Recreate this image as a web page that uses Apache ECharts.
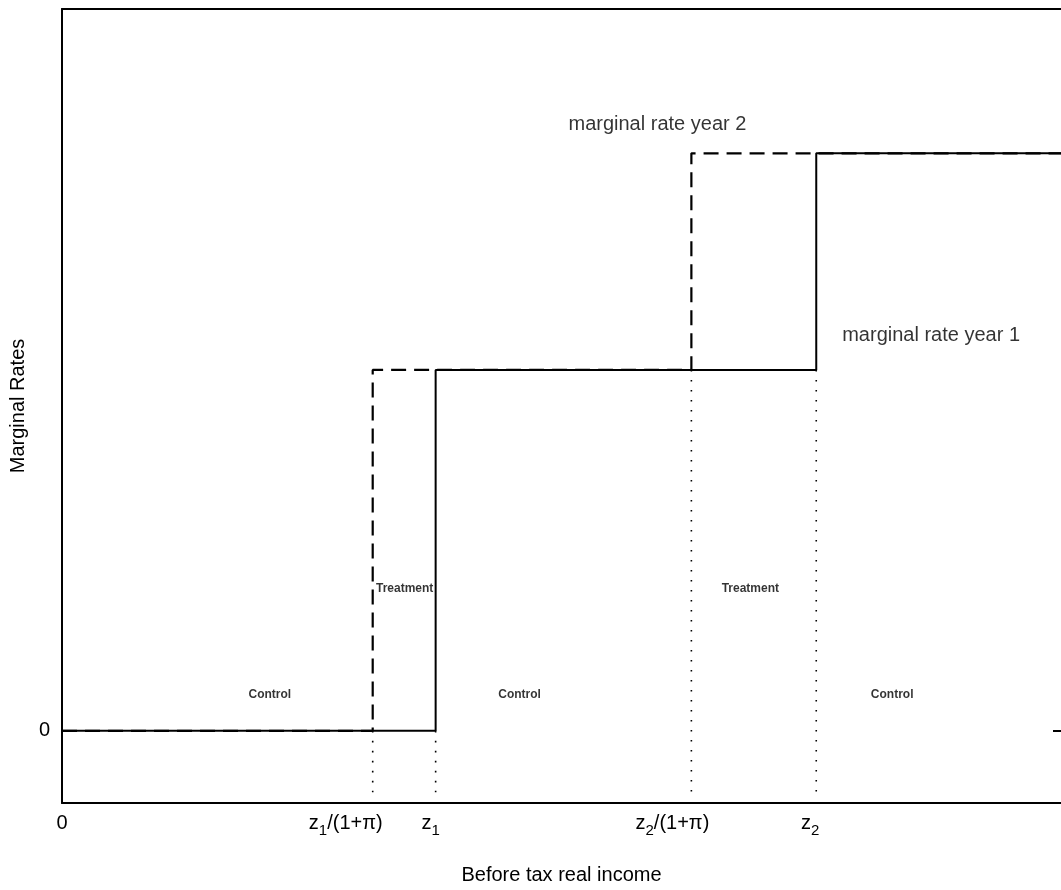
<!DOCTYPE html>
<html>
<head>
<meta charset="utf-8">
<script src="https://cdn.jsdelivr.net/npm/echarts@6/dist/echarts.min.js"></script>
<style>
html,body{margin:0;padding:0;background:#fff;}
#chart{width:1061px;height:890px;}
</style>
</head>
<body>
<div id="chart"></div>
<script>
// ---- data ----
var year1X = [0, 3.74, 7.55, 10];
var year1Y = [0, 1, 1.6, 1.6];
var year2X = [0, 3.11, 6.30, 10];
var year2Y = [0, 1, 1.6, 1.6];
var guideX = [3.11, 3.74, 6.30, 7.55];
var guideTop = [0, 0, 1, 1];
var guideBottom = -0.17;
var xTickValues = [0, 2.84, 3.69, 6.11, 7.49];
var xTickLabels = ['0', 'z|1|/(1+π)', 'z|1|', 'z|2|/(1+π)', 'z|2|'];
var bigNotes = [
  {name: 'marginal rate year 2', x: 5.96, y: 1.68},
  {name: 'marginal rate year 1', x: 8.70, y: 1.095}
];
var smallNotes = [
  {name: 'Control', x: 2.08, y: 0.10},
  {name: 'Control', x: 4.58, y: 0.10},
  {name: 'Control', x: 8.31, y: 0.10},
  {name: 'Treatment', x: 3.43, y: 0.395},
  {name: 'Treatment', x: 6.89, y: 0.395}
];

var FONT = "'Liberation Sans', Arial, Helvetica, sans-serif";

function zip(xs, ys) { return xs.map(function (x, i) { return [x, ys[i]]; }); }

function tickFormatter(v) {
  var idx = xTickValues.indexOf(v);
  if (idx < 0) return '';
  var parts = xTickLabels[idx].split('|');
  if (parts.length === 1) return '{a|' + parts[0] + '}';
  var s = '{a|' + parts[0] + '}{b|' + parts[1] + '}';
  if (parts[2]) s += '{a|' + parts[2] + '}';
  return s;
}

var series = [];
guideX.forEach(function (x, i) {
  series.push({
    type: 'line', silent: true, symbol: 'none',
    data: [[x, guideTop[i]], [x, guideBottom]],
    lineStyle: {color: '#000', width: 1.6, type: [1.6, 8.4]},
    z: 1
  });
});
series.push({
  name: 'marginal rate year 1', type: 'line', step: 'end', symbol: 'none',
  data: zip(year1X, year1Y),
  lineStyle: {color: '#000', width: 2}, z: 3
});
series.push({
  name: 'marginal rate year 2', type: 'line', step: 'end', symbol: 'none',
  data: zip(year2X, year2Y),
  lineStyle: {color: '#000', width: 2.2, type: [15, 8]}, z: 4
});
series.push({
  type: 'scatter', symbolSize: 0, silent: true,
  data: bigNotes.map(function (n) { return {name: n.name, value: [n.x, n.y]}; }),
  label: {show: true, position: 'inside', formatter: '{b}', color: '#000',
    fontSize: 20, fontFamily: FONT}
});
series.push({
  type: 'scatter', symbolSize: 0, silent: true,
  data: smallNotes.map(function (n) { return {name: n.name, value: [n.x, n.y]}; }),
  label: {show: true, position: 'inside', formatter: '{b}', color: '#000',
    fontSize: 12, fontWeight: 'bold', fontFamily: FONT}
});

var chart = echarts.init(document.getElementById('chart'));
chart.setOption({
  animation: false,
  backgroundColor: '#fff',
  textStyle: {fontFamily: FONT},
  grid: {left: 60, top: 9, width: 1004, height: 795, show: false},
  xAxis: [{
    type: 'value', min: 0, max: 10, position: 'bottom',
    name: 'Before tax real income', nameLocation: 'middle', nameGap: 62,
    nameTextStyle: {color: '#000', fontSize: 20, fontFamily: FONT},
    axisLine: {show: true, onZero: false, lineStyle: {color: '#000', width: 2}},
    axisTick: {show: false},
    splitLine: {show: false},
    axisLabel: {
      customValues: xTickValues, margin: 3, color: '#000',
      formatter: tickFormatter,
      rich: {
        a: {fontSize: 20, lineHeight: 34, fontFamily: FONT, color: '#000'},
        b: {fontSize: 15, lineHeight: 18, padding: [16, 0, 0, 0], fontFamily: FONT, color: '#000'}
      }
    }
  }, {
    type: 'value', min: 0, max: 10, position: 'top',
    axisLine: {show: true, onZero: false, lineStyle: {color: '#000', width: 2}},
    axisTick: {show: false}, axisLabel: {show: false}, splitLine: {show: false}
  }],
  yAxis: [{
    type: 'value', min: -0.2, max: 2,
    name: 'Marginal Rates', nameLocation: 'middle', nameGap: 30,
    nameTextStyle: {color: '#000', fontSize: 20, fontFamily: FONT},
    axisLine: {show: true, onZero: false, lineStyle: {color: '#000', width: 2}},
    axisTick: {show: false},
    splitLine: {show: false},
    axisLabel: {customValues: [0], margin: 12, color: '#000', fontSize: 20, fontFamily: FONT}
  }, {
    type: 'value', min: -0.2, max: 2, position: 'right',
    axisLine: {show: false, onZero: false},
    axisTick: {show: true, inside: true, length: 8, customValues: [0], lineStyle: {color: '#000', width: 2}},
    axisLabel: {show: false},
    splitLine: {show: false}
  }],
  series: series
});
</script>
</body>
</html>
